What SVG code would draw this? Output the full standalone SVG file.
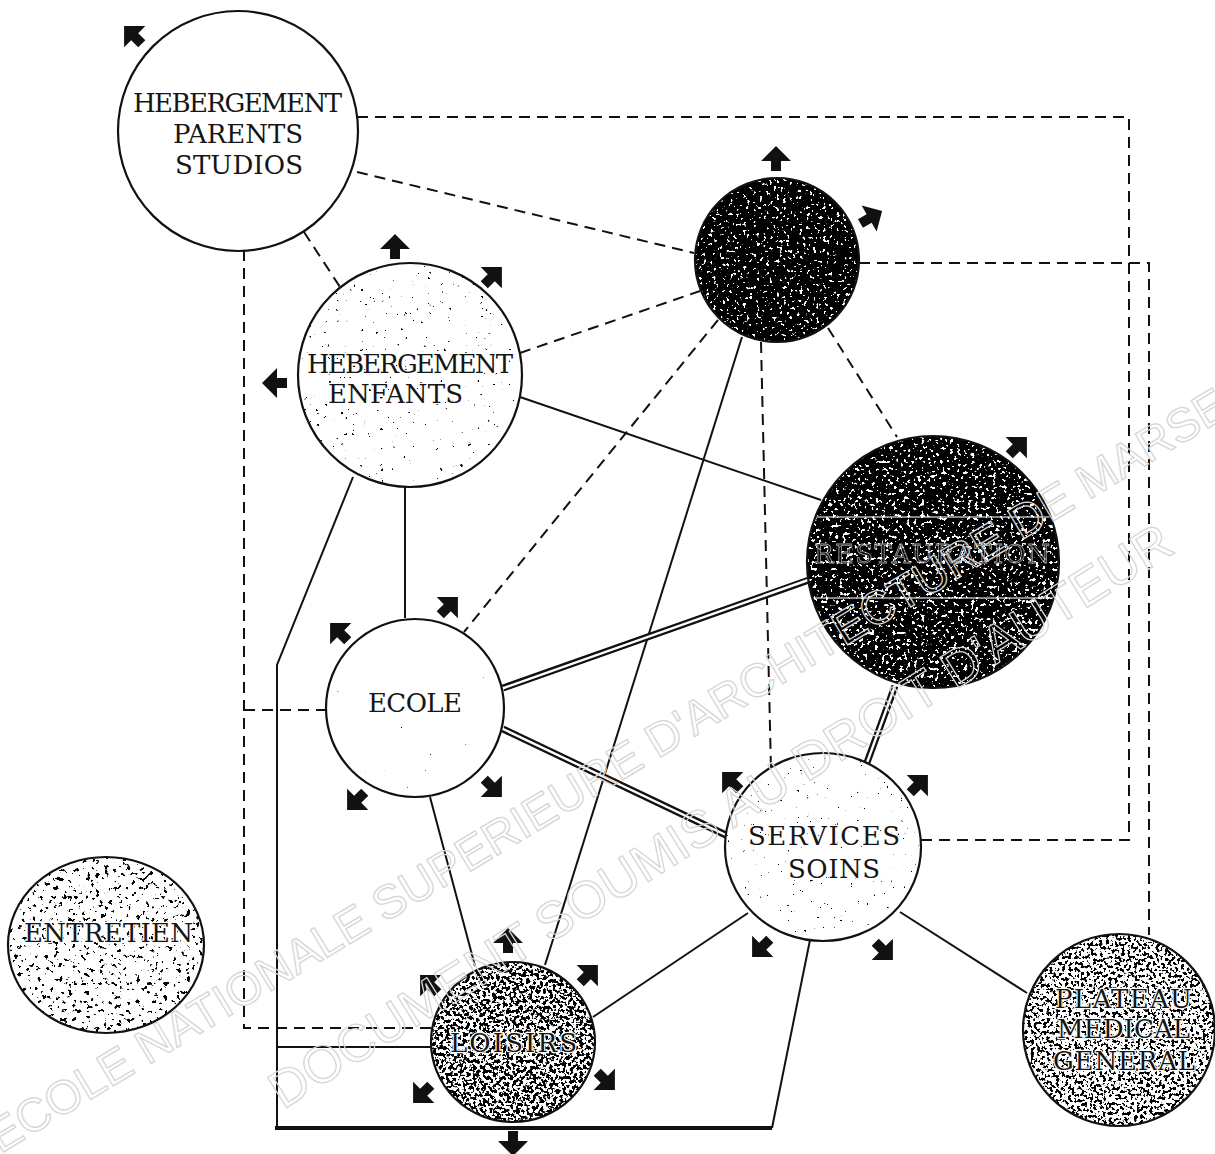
<svg xmlns="http://www.w3.org/2000/svg" width="1215" height="1154" viewBox="0 0 1215 1154">
<style>
  .ring{fill:none;stroke:#111;stroke-width:2.2}
  .lbl{font-family:"DejaVu Serif","Liberation Serif",serif;font-size:26px;fill:#151515}
  .halo{paint-order:stroke;stroke:#fff;stroke-width:2.5px;stroke-linejoin:round}
  .dash{fill:none;stroke:#111;stroke-width:2;stroke-dasharray:11 7}
  .solid{fill:none;stroke:#111;stroke-width:2}
  .heavy{fill:none;stroke:#111;stroke-width:4}
  .dbl-o{fill:none;stroke:#111;stroke-width:7}
  .dbl-i{fill:none;stroke:#fff;stroke-width:2.4}
  .arr{fill:#111}
  .wm{font-family:"Liberation Sans",Arial,sans-serif;fill:none;stroke:#d6d6d6;stroke-width:1.3}
</style>
<defs>
  <!-- block arrow, pointing up, centred on the origin -->
  <path id="arr" d="M0,-14 L15,1 L5,1 L5,11 L-5,11 L-5,1 L-15,1 Z"/>
  <!-- speckled tones: noise thresholded into black grain, clipped to the shape -->
  <filter id="tx-black" x="0" y="0" width="1" height="1" color-interpolation-filters="sRGB">
    <feTurbulence type="fractalNoise" baseFrequency="0.3" numOctaves="2" seed="4" result="n"/>
    <feColorMatrix in="n" type="matrix" values="0 0 0 0 0 0 0 0 0 0 0 0 0 0 0 -25 0 0 0 17" result="m"/>
    <feComposite in="m" in2="SourceGraphic" operator="in"/>
  </filter>
  <filter id="tx-resto" x="0" y="0" width="1" height="1" color-interpolation-filters="sRGB">
    <feTurbulence type="fractalNoise" baseFrequency="0.28" numOctaves="2" seed="11" result="n"/>
    <feColorMatrix in="n" type="matrix" values="0 0 0 0 0 0 0 0 0 0 0 0 0 0 0 -25 0 0 0 16.4" result="m"/>
    <feComposite in="m" in2="SourceGraphic" operator="in"/>
  </filter>
  <filter id="tx-loisirs" x="0" y="0" width="1" height="1" color-interpolation-filters="sRGB">
    <feTurbulence type="fractalNoise" baseFrequency="0.3" numOctaves="2" seed="7" result="n"/>
    <feColorMatrix in="n" type="matrix" values="0 0 0 0 0 0 0 0 0 0 0 0 0 0 0 -25 0 0 0 12.8" result="m"/>
    <feComposite in="m" in2="SourceGraphic" operator="in"/>
  </filter>
  <filter id="tx-plateau" x="0" y="0" width="1" height="1" color-interpolation-filters="sRGB">
    <feTurbulence type="fractalNoise" baseFrequency="0.32" numOctaves="2" seed="23" result="n"/>
    <feColorMatrix in="n" type="matrix" values="0 0 0 0 0 0 0 0 0 0 0 0 0 0 0 -25 0 0 0 11.7" result="m"/>
    <feComposite in="m" in2="SourceGraphic" operator="in"/>
  </filter>
  <filter id="tx-entretien" x="0" y="0" width="1" height="1" color-interpolation-filters="sRGB">
    <feTurbulence type="fractalNoise" baseFrequency="0.22" numOctaves="3" seed="31" result="n"/>
    <feColorMatrix in="n" type="matrix" values="0 0 0 0 0 0 0 0 0 0 0 0 0 0 0 -25 0 0 0 9" result="m"/>
    <feComposite in="m" in2="SourceGraphic" operator="in"/>
  </filter>
  <filter id="tx-enfants" x="0" y="0" width="1" height="1" color-interpolation-filters="sRGB">
    <feTurbulence type="fractalNoise" baseFrequency="0.25" numOctaves="3" seed="42" result="n"/>
    <feColorMatrix in="n" type="matrix" values="0 0 0 0 0 0 0 0 0 0 0 0 0 0 0 -25 0 0 0 6.4" result="m"/>
    <feComposite in="m" in2="SourceGraphic" operator="in"/>
  </filter>
  <filter id="tx-soins" x="0" y="0" width="1" height="1" color-interpolation-filters="sRGB">
    <feTurbulence type="fractalNoise" baseFrequency="0.3" numOctaves="3" seed="57" result="n"/>
    <feColorMatrix in="n" type="matrix" values="0 0 0 0 0 0 0 0 0 0 0 0 0 0 0 -25 0 0 0 5.5" result="m"/>
    <feComposite in="m" in2="SourceGraphic" operator="in"/>
  </filter>
  <filter id="tx-ecole" x="0" y="0" width="1" height="1" color-interpolation-filters="sRGB">
    <feTurbulence type="fractalNoise" baseFrequency="0.3" numOctaves="3" seed="63" result="n"/>
    <feColorMatrix in="n" type="matrix" values="0 0 0 0 0 0 0 0 0 0 0 0 0 0 0 -25 0 0 0 3.8" result="m"/>
    <feComposite in="m" in2="SourceGraphic" operator="in"/>
  </filter>
</defs>

<rect width="1215" height="1154" fill="#fff"/>

<!-- links between the spaces -->
<g id="connectors">
  <path class="dash" d="M357,117 H1129 V840 H921"/>
  <path class="dash" d="M357,172 L694,253"/>
  <path class="dash" d="M304,232 L340,287"/>
  <path class="dash" d="M244,250 V1028 H434"/>
  <path class="dash" d="M244,710 H327"/>
  <path class="dash" d="M859,263 H1149 V935"/>
  <path class="dash" d="M520,353 L700,291"/>
  <path class="dash" d="M718,320 L464,632"/>
  <path class="dash" d="M761,342 L771,770"/>
  <path class="dash" d="M828,328 L897,437"/>

  <path class="solid" d="M742,337 L545,965"/>
  <path class="solid" d="M520,397 L821,500"/>
  <path class="solid" d="M405,487 V618"/>
  <path class="solid" d="M353,477 L277,665 V1128"/>
  <path class="heavy" d="M275,1128 H772"/>
  <path class="solid" d="M772,1128 L810,940"/>
  <path class="solid" d="M277,1047 H432"/>
  <path class="solid" d="M430,797 L475,966"/>
  <path class="solid" d="M748,913 L593,1017"/>
  <path class="solid" d="M900,912 L1027,993"/>

  <path class="dbl-o" d="M503,688 L809,580"/>
  <path class="dbl-i" d="M501,689 L811,579"/>
  <path class="dbl-o" d="M503,729 L728,836"/>
  <path class="dbl-i" d="M501,728 L730,837"/>
  <path class="dbl-o" d="M895,686 L865,768"/>
  <path class="dbl-i" d="M896,683 L864,771"/>
</g>

<g id="node-hebergement-parents">
  <circle cx="238" cy="131" r="120" fill="#fff"/>
  <circle class="ring" cx="238" cy="131" r="120"/>
  <text class="lbl" x="133" y="112" textLength="209" lengthAdjust="spacing">HEBERGEMENT</text>
  <text class="lbl" x="173" y="143" textLength="130" lengthAdjust="spacing">PARENTS</text>
  <text class="lbl" x="175" y="174" textLength="128" lengthAdjust="spacing">STUDIOS</text>
  <use class="arr" href="#arr" transform="translate(134,36) rotate(-45)"/>
</g>

<g id="node-central">
  <circle cx="777" cy="260" r="82" fill="#fff"/>
  <circle cx="777" cy="260" r="82" fill="#000" filter="url(#tx-black)"/>
  <circle class="ring" cx="777" cy="260" r="82"/>
  <use class="arr" href="#arr" transform="translate(776,160)"/>
  <use class="arr" href="#arr" transform="translate(870,218) rotate(60)"/>
</g>

<g id="node-hebergement-enfants">
  <circle cx="410" cy="375" r="112" fill="#fff"/>
  <circle cx="410" cy="375" r="112" fill="#000" filter="url(#tx-enfants)"/>
  <circle class="ring" cx="410" cy="375" r="112"/>
  <text class="lbl halo" x="307" y="373" textLength="206" lengthAdjust="spacing">HEBERGEMENT</text>
  <text class="lbl halo" x="328" y="403" textLength="135" lengthAdjust="spacing">ENFANTS</text>
  <use class="arr" href="#arr" transform="translate(395,248)"/>
  <use class="arr" href="#arr" transform="translate(492,277) rotate(45)"/>
  <use class="arr" href="#arr" transform="translate(276,383) rotate(-90)"/>
</g>

<g id="node-restauration">
  <circle cx="933" cy="562" r="126" fill="#fff"/>
  <circle cx="933" cy="562" r="126" fill="#000" filter="url(#tx-resto)"/>
  <path d="M812,517 H1055 M812,598 H1055" stroke="#fff" stroke-width="1.5" opacity="0.7"/>
  <circle class="ring" cx="933" cy="562" r="126"/>
  <text class="lbl" x="814" y="563" textLength="236" lengthAdjust="spacing" fill="#000" stroke="#fff" stroke-width="0.8" opacity="0.6">RESTAURATION</text>
  <use class="arr" href="#arr" transform="translate(1017,447) rotate(45)"/>
</g>

<g id="node-ecole">
  <circle cx="415" cy="708" r="89" fill="#fff"/>
  <circle cx="415" cy="708" r="89" fill="#000" filter="url(#tx-ecole)"/>
  <circle class="ring" cx="415" cy="708" r="89"/>
  <text class="lbl halo" x="368" y="712" textLength="94" lengthAdjust="spacing">ECOLE</text>
  <use class="arr" href="#arr" transform="translate(340,633) rotate(-45)"/>
  <use class="arr" href="#arr" transform="translate(448,607) rotate(45)"/>
  <use class="arr" href="#arr" transform="translate(357,800) rotate(-135)"/>
  <use class="arr" href="#arr" transform="translate(492,787) rotate(135)"/>
</g>

<g id="node-services-soins">
  <ellipse cx="823" cy="847" rx="98" ry="94" fill="#fff"/>
  <ellipse cx="823" cy="847" rx="98" ry="94" fill="#000" filter="url(#tx-soins)"/>
  <ellipse class="ring" cx="823" cy="847" rx="98" ry="94"/>
  <text class="lbl halo" x="748" y="845" textLength="152" lengthAdjust="spacing">SERVICES</text>
  <text class="lbl halo" x="788" y="878" textLength="92" lengthAdjust="spacing">SOINS</text>
  <use class="arr" href="#arr" transform="translate(732,782) rotate(-45)"/>
  <use class="arr" href="#arr" transform="translate(918,785) rotate(45)"/>
  <use class="arr" href="#arr" transform="translate(762,947) rotate(-135)"/>
  <use class="arr" href="#arr" transform="translate(883,950) rotate(135)"/>
</g>

<g id="node-loisirs">
  <ellipse cx="513" cy="1042" rx="82" ry="80" fill="#fff"/>
  <ellipse cx="513" cy="1042" rx="82" ry="80" fill="#000" filter="url(#tx-loisirs)"/>
  <ellipse class="ring" cx="513" cy="1042" rx="82" ry="80"/>
  <text class="lbl halo" x="450" y="1052" textLength="127" lengthAdjust="spacing">LOISIRS</text>
  <use class="arr" href="#arr" transform="translate(508,942)"/>
  <use class="arr" href="#arr" transform="translate(430,985) rotate(-45)"/>
  <use class="arr" href="#arr" transform="translate(588,975) rotate(45)"/>
  <use class="arr" href="#arr" transform="translate(423,1093) rotate(-135)"/>
  <use class="arr" href="#arr" transform="translate(605,1080) rotate(135)"/>
  <use class="arr" href="#arr" transform="translate(513,1142) rotate(180)"/>
</g>

<g id="node-plateau-medical">
  <circle cx="1119" cy="1030" r="96" fill="#fff"/>
  <circle cx="1119" cy="1030" r="96" fill="#000" filter="url(#tx-plateau)"/>
  <circle class="ring" cx="1119" cy="1030" r="96"/>
  <text class="lbl halo" x="1055" y="1008" textLength="137" lengthAdjust="spacing">PLATEAU</text>
  <text class="lbl halo" x="1057" y="1038" textLength="133" lengthAdjust="spacing">MEDICAL</text>
  <text class="lbl halo" x="1053" y="1070" textLength="142" lengthAdjust="spacing">GENERAL</text>
</g>

<g id="node-entretien">
  <ellipse cx="106" cy="945" rx="98" ry="88" fill="#fff"/>
  <ellipse cx="106" cy="945" rx="98" ry="88" fill="#000" filter="url(#tx-entretien)"/>
  <ellipse class="ring" cx="106" cy="945" rx="98" ry="88"/>
  <text class="lbl halo" x="24" y="942" textLength="169" lengthAdjust="spacing">ENTRETIEN</text>
</g>

<!-- archive stamp across the sheet -->
<g id="watermark" class="wm">
  <text font-size="47" transform="translate(0,1154) rotate(-31)">ECOLE NATIONALE SUPERIEURE D'ARCHITECTURE DE MARSEILLE</text>
  <text font-size="52" transform="translate(283,1110) rotate(-32)">DOCUMENT SOUMIS AU DROIT D'AUTEUR</text>
</g>
</svg>
